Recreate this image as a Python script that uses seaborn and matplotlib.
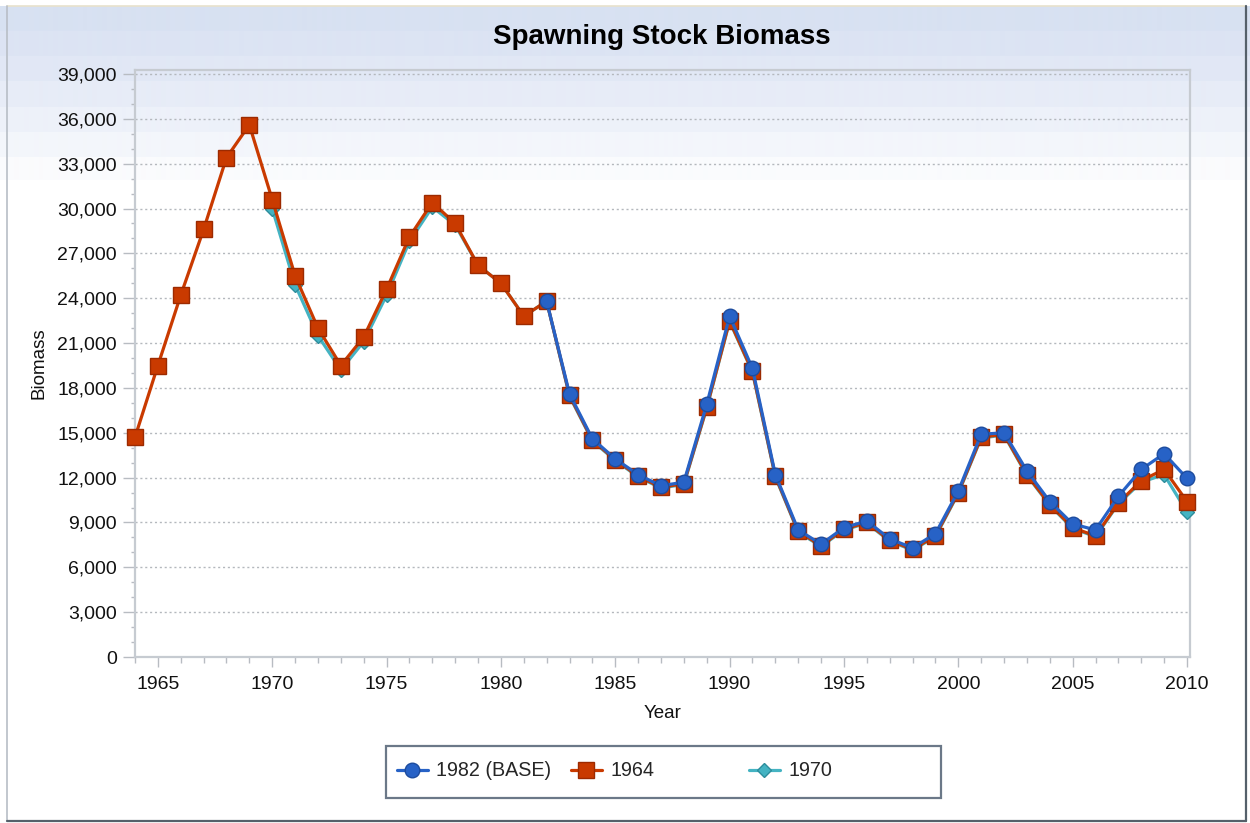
import numpy as np
import pandas as pd
import matplotlib
matplotlib.use("Agg")
import matplotlib.pyplot as plt
from matplotlib.lines import Line2D
from matplotlib.patches import Rectangle
from matplotlib.ticker import MultipleLocator, FuncFormatter
import seaborn as sns

# ---- data -------------------------------------------------------------
years_1964 = list(range(1964, 2011))
ssb_1964 = [14700, 19500, 24200, 28600, 33400, 35600, 30600, 25500, 22000, 19500,
            21400, 24600, 28100, 30400, 29000, 26200, 25000, 22800, 23800, 17500,
            14500, 13200, 12100, 11350, 11600, 16700, 22500, 19100, 12100, 8400,
            7450, 8550, 9000, 7800, 7200, 8100, 11000, 14700, 14900, 12200,
            10200, 8650, 8100, 10300, 11800, 12550, 10400]

years_1970 = list(range(1970, 2011))
ssb_1970 = [30000, 24900, 21500, 19200, 21100, 24200, 27800, 30100, 28900, 26200,
            25000, 22800, 23800, 17450, 14450, 13150, 12050, 11300, 11550, 16650,
            22450, 19050, 12050, 8350, 7400, 8500, 8950, 7750, 7150, 8050,
            10950, 14650, 14850, 12150, 10150, 8600, 8050, 10250, 11700, 12200,
            9700]

years_1982 = list(range(1982, 2011))
ssb_1982 = [23800, 17600, 14600, 13250, 12200, 11450, 11700, 16900, 22800, 19300,
            12200, 8500, 7550, 8650, 9100, 7900, 7300, 8250, 11100, 14900,
            15000, 12450, 10400, 8900, 8500, 10750, 12550, 13600, 11950]

series_labels = ["1982 (BASE)", "1964", "1970"]

# ---- style ------------------------------------------------------------
sns.set_style("white")
plt.rcParams["font.family"] = ["Liberation Sans", "DejaVu Sans"]

W, H = 1250, 823
fig = plt.figure(figsize=(W / 100, H / 100), dpi=100)
fig.patch.set_facecolor("white")

# banded header gradient behind everything
bg = fig.add_axes([0, 0, 1, 1], zorder=-10)
bg.axis("off")
band_cols = ["#d8e1f2", "#dce4f3", "#e1e8f5", "#e7ecf7", "#edf1f9", "#f3f6fb", "#fafbfd"]
rows = np.ones((H, 1, 3))
for i, c in enumerate(band_cols):
    y0 = 6 + i * 25.3
    y1 = y0 + 25.3 if i < len(band_cols) - 1 else 180
    rows[int(y0):int(y1)] = matplotlib.colors.to_rgb(c)
bg.imshow(rows, aspect="auto", extent=[0, 1, 0, 1], origin="upper")
bg.set_xlim(0, 1)
bg.set_ylim(0, 1)

# outer border of the chart
def fig_line(x0, y0, x1, y1, color, lw):
    fig.add_artist(Line2D([x0 / W, x1 / W], [1 - y0 / H, 1 - y1 / H],
                          color=color, lw=lw, transform=fig.transFigure))

fig_line(7, 6, 1245, 6, "#e8e2cc", 1.2)
fig_line(7, 6, 7, 820, "#b8bec6", 1.2)
fig_line(1246, 6, 1246, 821, "#55606a", 1.6)
fig_line(7, 821, 1246, 821, "#55606a", 1.6)

# ---- plot area --------------------------------------------------------
left, right, top, bottom = 135, 1190, 70, 657
ax = fig.add_axes([left / W, 1 - bottom / H, (right - left) / W, (bottom - top) / H])
ax.set_facecolor("none")

px_per_year = (1187 - 135) / 46.0
ax.set_xlim(1964, 1964 + (right - left) / px_per_year)
ax.set_ylim(0, 39000 * (bottom - top) / (657 - 74))

df_1964 = pd.DataFrame({"Year": years_1964, "Biomass": ssb_1964})
df_1970 = pd.DataFrame({"Year": years_1970, "Biomass": ssb_1970})
df_1982 = pd.DataFrame({"Year": years_1982, "Biomass": ssb_1982})

blue, blue_e = "#2762c6", "#1d4c9e"
red, red_e = "#c93a00", "#9c2a00"
teal, teal_e = "#44b3c2", "#2d8d9c"

sns.lineplot(data=df_1970, x="Year", y="Biomass", ax=ax, color=teal, lw=2.3,
             marker="D", markersize=7, markerfacecolor=teal, markeredgecolor=teal_e,
             markeredgewidth=1, zorder=3, clip_on=False)
sns.lineplot(data=df_1964, x="Year", y="Biomass", ax=ax, color=red, lw=2.3,
             marker="s", markersize=11, markerfacecolor=red, markeredgecolor=red_e,
             markeredgewidth=1, zorder=4, clip_on=False)
sns.lineplot(data=df_1982, x="Year", y="Biomass", ax=ax, color=blue, lw=2.3,
             marker="o", markersize=10.5, markerfacecolor=blue, markeredgecolor=blue_e,
             markeredgewidth=1, zorder=5, clip_on=False)

# axes, ticks and grid
for s in ax.spines.values():
    s.set_color("#c6cbd1")
    s.set_linewidth(1.6)
    s.set_zorder(1)

ax.yaxis.set_major_locator(MultipleLocator(3000))
ax.yaxis.set_minor_locator(MultipleLocator(1000))
ax.yaxis.set_major_formatter(FuncFormatter(lambda v, p: f"{int(v):,}"))
ax.xaxis.set_major_locator(MultipleLocator(5))
ax.xaxis.set_minor_locator(MultipleLocator(1))
ax.xaxis.set_major_formatter(FuncFormatter(lambda v, p: f"{int(v)}"))

ax.tick_params(axis="both", which="major", labelsize=14, colors="#b8bcc2",
               labelcolor="#111111", direction="out", width=1)
ax.tick_params(axis="y", which="major", length=9, pad=4)
ax.tick_params(axis="y", which="minor", length=3, width=1, colors="#b8bcc2", direction="out")
ax.tick_params(axis="x", which="major", length=7, pad=7)
ax.tick_params(axis="x", which="minor", length=4, width=1, colors="#b8bcc2", direction="out")
ax.tick_params(left=True, bottom=True, which="both")

ax.grid(axis="y", which="major", color="#b4b8bd", lw=1, ls=(0, (1.5, 2.0)))
ax.set_axisbelow(True)

ax.set_xlabel("Year", fontsize=13.5, labelpad=8, color="#111111")
ax.set_ylabel("Biomass", fontsize=13.5, labelpad=7, color="#111111")

fig.text(662 / W, 1 - 37.5 / H, "Spawning Stock Biomass", ha="center", va="center",
         fontsize=20, fontweight="bold", color="#000000")

# legend: framed box with three fixed-width entries
bx0, by0, bx1, by1 = 386, 746, 941, 798
fig.add_artist(Rectangle((bx0 / W, 1 - by1 / H), (bx1 - bx0) / W, (by1 - by0) / H,
                         transform=fig.transFigure, facecolor="white",
                         edgecolor="#6b7888", lw=1.6, zorder=5))
handles = [
    Line2D([], [], color=blue, lw=2.3, marker="o", markersize=10.5,
           markerfacecolor=blue, markeredgecolor=blue_e),
    Line2D([], [], color=red, lw=2.3, marker="s", markersize=11,
           markerfacecolor=red, markeredgecolor=red_e),
    Line2D([], [], color=teal, lw=2.3, marker="D", markersize=7,
           markerfacecolor=teal, markeredgecolor=teal_e),
]
entry_x = [397, 571, 749]
for h, lab, ex in zip(handles, series_labels, entry_x):
    lg = fig.legend([h], [lab], loc="center left",
                    bbox_to_anchor=(ex / W, 1 - 771 / H), fontsize=14.2,
                    frameon=False, borderaxespad=0, borderpad=0,
                    handlelength=1.55, handletextpad=0.45)
    lg.set_zorder(6)

fig.savefig("out.png", dpi=100)
